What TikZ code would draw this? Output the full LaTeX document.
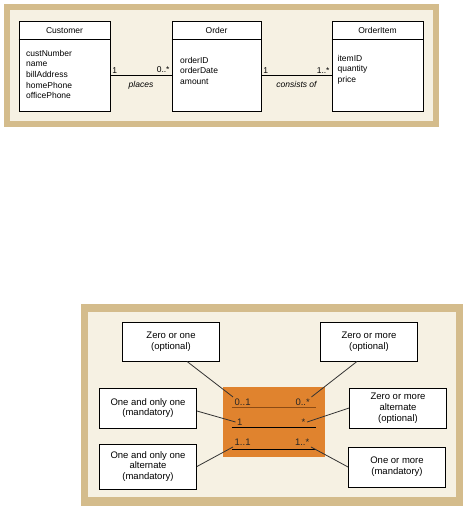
\documentclass[tikz,border=0pt]{standalone}
\usepackage{fontspec}
\setmainfont{Liberation Sans}
\usetikzlibrary{positioning}
\definecolor{frametan}{RGB}{212,188,140}
\definecolor{panelcream}{RGB}{246,241,227}
\definecolor{mulorange}{RGB}{224,131,46}
\definecolor{rulebrown}{RGB}{140,75,20}

\begin{document}
\begin{tikzpicture}[x=1pt, y=-1pt,
      classbox/.style={draw, fill=white, line width=1pt,
                       minimum width=91pt, minimum height=90pt, inner sep=0pt},
      classname/.style={font=\fontsize{8.5}{10}\selectfont, inner sep=0pt},
      attrs/.style={font=\fontsize{8.5}{10.6}\selectfont, align=left,
                    anchor=north west, inner sep=0pt},
      mult/.style={font=\fontsize{8.5}{10}\selectfont, inner sep=1.5pt},
      role/.style={font=\fontsize{8.5}{10}\selectfont\itshape, inner sep=0pt},
      notebox/.style={draw, fill=white, line width=0.9pt,
                      minimum width=97pt, minimum height=39pt,
                      align=center, inner sep=1pt,
                      font=\fontsize{9.5}{10.8}\selectfont},
      card/.style={font=\fontsize{9.5}{10}\selectfont, text=black!85, inner sep=1.5pt},
      link/.style={line width=0.9pt},
      pointer/.style={line width=0.8pt, black!80}
    ]
    \useasboundingbox (0,0) rectangle (467,508);
    \fill[frametan] (4,4) rectangle (439,127);
    \fill[panelcream] (10,10) rectangle (433,121);
    \fill[frametan] (81,304) rectangle (463,506);
    \fill[panelcream] (88,312) rectangle (456,497);

    \node[classbox] (customer) at (64.5,67) {};
    \node[classbox, minimum width=89pt] (order) at (216.5,67) {};
    \node[classbox] (orderitem) at (377.5,67) {};
    \foreach \c/\t in {customer/Customer, order/Order, orderitem/OrderItem} {
      \draw[line width=0.5pt] ([yshift=-17.5pt]\c.north west) -- ([yshift=-17.5pt]\c.north east);
      \node[classname] (\c name) at ([yshift=-9pt]\c.north) {\t};
    }
    \node[attrs] (customerattrs) at (26,50) {custNumber\\name\\billAddress\\homePhone\\officePhone};
    \node[attrs] (orderattrs) at (180,57) {orderID\\orderDate\\amount};
    \node[attrs] (orderitemattrs) at (337.5,55) {itemID\\quantity\\price};

    \draw[link] ([yshift=-8pt]customer.east) --
      node[mult, pos=0, above right] (placesone) {1}
      node[mult, pos=1, above left] (placesmany) {0..*}
      node[role, below=6pt] (places) {places}
      ([yshift=-8pt]order.west);
    \draw[link] ([yshift=-8pt]order.east) --
      node[mult, pos=0, above right] (consistsone) {1}
      node[mult, pos=1, above left] (consistsmany) {1..*}
      node[role, below=6pt] (consists) {consists of}
      ([yshift=-8pt]orderitem.west);

    \node[fill=mulorange, minimum width=102pt, minimum height=70pt, inner sep=0pt] (mulbox) at (274,422) {};
    \draw[rulebrown, line width=0.8pt] ([xshift=9pt,yshift=-21pt]mulbox.north west) -- ([xshift=-9pt,yshift=-21pt]mulbox.north east);
    \draw[line width=0.9pt] ([xshift=9pt,yshift=-41pt]mulbox.north west) -- ([xshift=-9pt,yshift=-41pt]mulbox.north east);
    \draw[line width=0.9pt] ([xshift=9pt,yshift=-63pt]mulbox.north west) -- ([xshift=-9pt,yshift=-63pt]mulbox.north east);

    \node[card, anchor=west] (zeroone) at (233,402) {0..1};
    \node[card, anchor=east] (zeromany) at (311.5,402) {0..*};
    \node[card, anchor=west] (one) at (235.5,422) {1};
    \node[card, anchor=east] (many) at (307,422) {*};
    \node[card, anchor=west] (oneone) at (233,442) {1..1};
    \node[card, anchor=east] (onemany) at (311,442) {1..*};

    \node[notebox] (zeroonenote) at (171,341.5) {Zero or one\\(optional)};
    \node[notebox] (zeromanynote) at (369,341.5) {Zero or more\\(optional)};
    \node[notebox, minimum height=40pt] (onenote) at (148,408) {One and only one\\(mandatory)};
    \node[notebox, minimum height=40pt] (manynote) at (398,408) {Zero or more\\alternate\\(optional)};
    \node[notebox, minimum height=45pt] (oneonenote) at (148,466.5) {One and only one\\alternate\\(mandatory)};
    \node[notebox, minimum height=40pt] (onemanynote) at (397,467) {One or more\\(mandatory)};

    \draw[pointer] ([xshift=16pt]zeroonenote.south) -- (zeroone.north west);
    \draw[pointer] ([xshift=-12pt]zeromanynote.south) -- (zeromany.north east);
    \draw[pointer] ([yshift=-3pt]onenote.east) -- (one.west);
    \draw[pointer] (manynote.west) -- (many.east);
    \draw[pointer] (oneonenote.east) -- (oneone.south west);
    \draw[pointer] (onemanynote.west) -- (onemany.south east);
  \end{tikzpicture}
\end{document}
